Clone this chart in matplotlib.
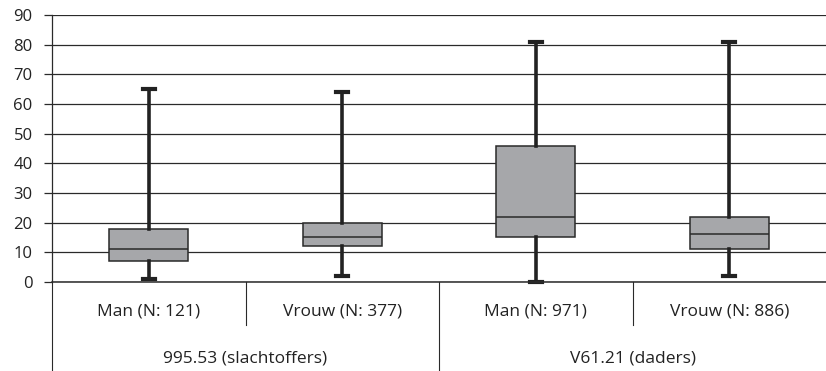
import matplotlib.pyplot as plt
from matplotlib.lines import Line2D

plt.rcParams['font.family'] = ['Open Sans', 'DejaVu Sans']

# categories and box statistics
labels = ['Man (N: 121)', 'Vrouw (N: 377)', 'Man (N: 971)', 'Vrouw (N: 886)']
groups = ['995.53 (slachtoffers)', 'V61.21 (daders)']
whislo = [1, 2, 0, 2]
q1 = [7, 12, 15, 11]
med = [11, 15, 22, 16]
q3 = [18, 20, 46, 22]
whishi = [65, 64, 81, 81]

stats = []
for i in range(len(labels)):
    stats.append({'whislo': whislo[i], 'q1': q1[i], 'med': med[i],
                  'q3': q3[i], 'whishi': whishi[i], 'fliers': []})

fig = plt.figure(figsize=(8.26, 3.71), dpi=100)
ax = fig.add_axes([0.063, 0.24, 0.937, 0.7196])

ax.set_axisbelow(True)
ax.yaxis.grid(True, color='#2a2a2a', linewidth=0.9)

pos = list(range(len(labels)))
bp = ax.bxp(stats, positions=pos, widths=0.41, patch_artist=True,
            showfliers=False, capwidths=0.06,
            boxprops=dict(facecolor='#a6a7aa', edgecolor='#2a2a2a', linewidth=1.1),
            medianprops=dict(color='#2a2a2a', linewidth=1.1),
            whiskerprops=dict(color='#222222', linewidth=2.6),
            capprops=dict(color='#222222', linewidth=3))
for k in ('whiskers', 'caps'):
    for a in bp[k]:
        a.set_clip_on(False)

ax.set_xlim(-0.5, len(labels) - 0.5)
ax.set_ylim(0, 90)
ax.set_yticks(range(0, 91, 10))
ax.set_xticks([])
ax.tick_params(axis='y', length=6, width=0.9, color='#2a2a2a', pad=8,
               labelsize=12, labelcolor='#222222')
for s in ('top', 'right'):
    ax.spines[s].set_visible(False)
ax.spines['left'].set_color('#2a2a2a')
ax.spines['bottom'].set_color('#2a2a2a')
ax.spines['left'].set_linewidth(0.9)
ax.spines['bottom'].set_linewidth(1.1)

tr = ax.get_xaxis_transform()
for i, lab in enumerate(labels):
    ax.text(i, -0.112, lab, transform=tr, ha='center', va='center',
            fontsize=12.5, color='#222222')
for g, name in enumerate(groups):
    ax.text(2 * g + 0.5, -0.285, name, transform=tr, ha='center', va='center',
            fontsize=12.5, color='#222222')

# separators under the axis
for x in [0.5, 2.5]:
    ax.add_line(Line2D([x, x], [0, -0.16], transform=tr,
                       color='#2a2a2a', linewidth=0.8, clip_on=False))
for x in [-0.5, 1.5]:
    ax.add_line(Line2D([x, x], [0, -0.335], transform=tr,
                       color='#2a2a2a', linewidth=0.8, clip_on=False))

fig.savefig('out.png', dpi=100)
